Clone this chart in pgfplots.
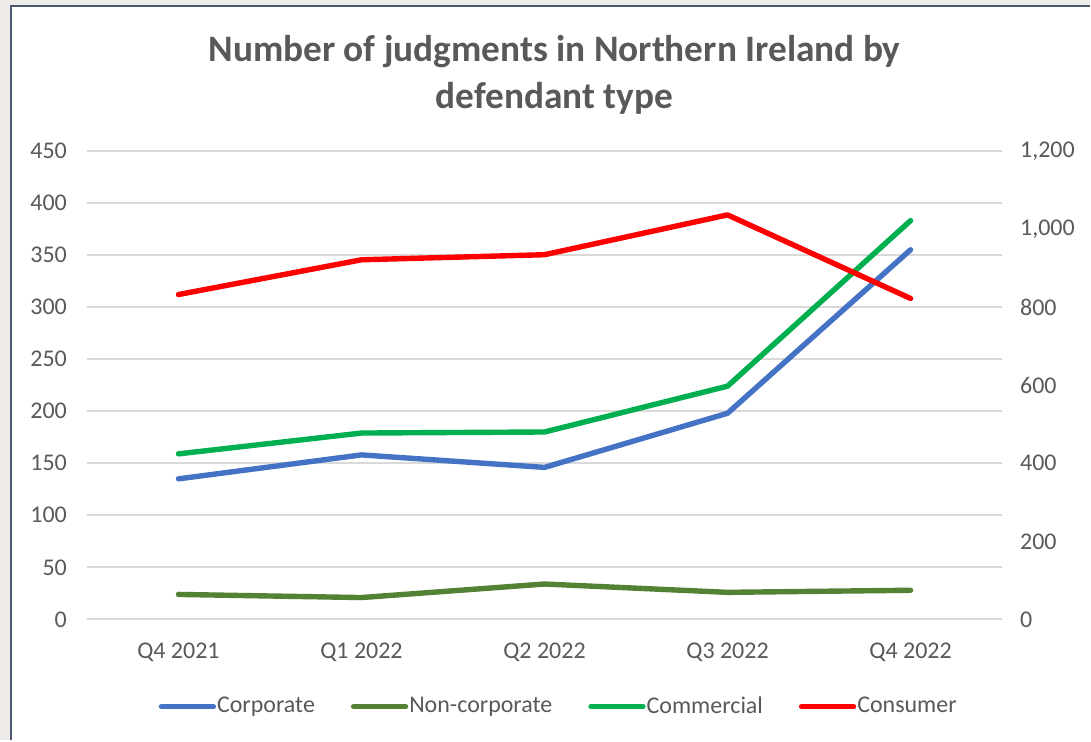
\documentclass[border=0pt]{standalone}
\usepackage{fontspec}
\setmainfont{Carlito}
\usepackage{pgfplots}
\pgfplotsset{compat=1.18}

\definecolor{txt}{HTML}{595959}
\definecolor{gridc}{HTML}{D9D9D9}
\definecolor{bgc}{HTML}{EEEBE9}
\definecolor{framec}{HTML}{4A5A72}
\definecolor{corp}{HTML}{4472C4}
\definecolor{noncorp}{HTML}{548235}
\definecolor{comm}{HTML}{00B050}
\definecolor{cons}{HTML}{FF0000}

\pgfplotsset{
  judg/.style={
    scale only axis, width=458pt, height=234.5pt,
    at={(43.5pt,60.5pt)}, anchor=south west,
    axis line style={draw=none},
    major tick length=0pt,
    xmin=-0.5, xmax=4.5,
    tick label style={font=\fontsize{12}{14}\selectfont, text=txt},
    /pgf/number format/.cd, 1000 sep={,}, assume math mode=true,
  },
  ln/.style={line width=2.7pt, line cap=round, line join=round, no markers},
}

\begin{document}
\begin{tikzpicture}[x=0.5pt,y=0.5pt]
\fill[bgc] (0,0) rectangle (1091,741);
\fill[white] (11,0) rectangle (1091,734.5);
\draw[framec, line width=1pt] (11,0) -- (11,734.5) -- (1091,734.5);
\path[use as bounding box] (0,0) rectangle (1091,741);

\node[align=center, text=txt, font=\fontsize{18.67}{23.5}\selectfont\bfseries]
  at (555,666) {Number of judgments in Northern Ireland by\\defendant type};

% left axis: corporate, non-corporate, commercial
\begin{axis}[judg,
    ymin=0, ymax=450, ytick={0,50,...,450},
    ytick pos=left, xtick pos=bottom,
    xtick={0,1,2,3,4},
    xticklabels={Q4 2021,Q1 2022,Q2 2022,Q3 2022,Q4 2022},
    xticklabel style={yshift=-8pt},
    yticklabel style={xshift=-6.5pt},
    ymajorgrids, grid style={gridc, line width=1pt},
  ]
  \addplot[ln, corp] coordinates {(0,135) (1,158) (2,146) (3,198) (4,355)};
  \addplot[ln, noncorp] coordinates {(0,24) (1,21) (2,34) (3,26) (4,28)};
  \addplot[ln, comm] coordinates {(0,159) (1,179) (2,180) (3,224) (4,383)};
\end{axis}

% right axis: consumer
\begin{axis}[judg,
    ymin=0, ymax=1200, ytick={0,200,...,1200},
    axis y line*=right, hide x axis,
    yticklabel style={xshift=5.5pt},
    legend columns=4,
    legend style={draw=none, fill=none, at={(0.515,-0.186)}, anchor=center,
      font=\fontsize{12}{14}\selectfont, text=txt,
      nodes={inner sep=0.5pt},
      /tikz/every even column/.append style={column sep=17.5pt}},
    legend image code/.code={\draw[#1, line width=2.7pt, line cap=round] (0pt,0pt) -- (26pt,0pt);},
  ]
  \addlegendimage{corp}\addlegendentry{Corporate}
  \addlegendimage{noncorp}\addlegendentry{Non-corporate}
  \addlegendimage{comm}\addlegendentry{Commercial}
  \addplot[ln, cons] coordinates {(0,832) (1,921) (2,934) (3,1036) (4,822)};
  \addlegendentry{Consumer}
\end{axis}
\end{tikzpicture}
\end{document}
